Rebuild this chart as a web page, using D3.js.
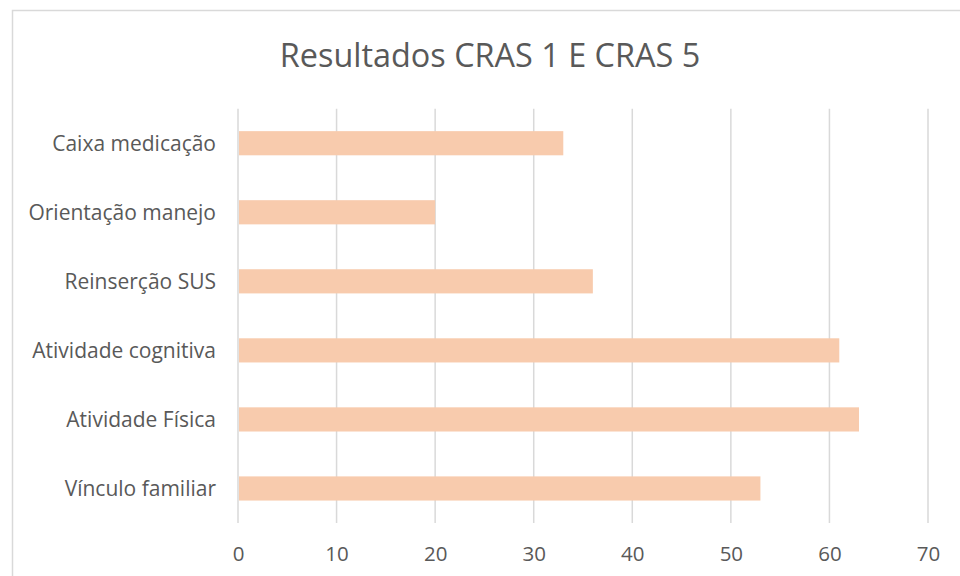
<!DOCTYPE html>
<html>
<head>
<meta charset="utf-8">
<script src="https://cdn.jsdelivr.net/npm/d3@7"></script>
<style>
  body { margin: 0; background: #fff; }
  svg { display: block; font-family: "Open Sans", Lato, sans-serif; }
</style>
</head>
<body>
<svg id="chart" width="960" height="576"></svg>
<script>
const categories = ["Caixa medicação", "Orientação manejo", "Reinserção SUS", "Atividade cognitiva", "Atividade Física", "Vínculo familiar"];
const values = [33, 20, 36, 61, 63, 53];
const ticks = [0, 10, 20, 30, 40, 50, 60, 70];

const svg = d3.select("#chart");
const margin = { top: 108.7, right: 32, bottom: 53, left: 238 };

// chart frame (runs off the right and bottom edges)
svg.append("rect")
    .attr("x", 12.5).attr("y", 10.5)
    .attr("width", 960).attr("height", 600)
    .attr("fill", "#fff")
    .attr("stroke", "#d9d9d9")
    .attr("stroke-width", 1.5);

svg.append("text")
    .attr("x", 490)
    .attr("y", 67)
    .attr("text-anchor", "middle")
    .attr("font-size", 32.4)
    .attr("fill", "#595959")
    .text("Resultados CRAS 1 E CRAS 5");

const x = d3.scaleLinear().domain([0, 70]).range([238, 928]);
const y = d3.scaleBand().domain(categories).range([margin.top, 523]).paddingInner(0.65).paddingOuter(0.325);

// gridlines
svg.append("g")
    .selectAll("line")
    .data(ticks)
    .enter()
    .append("line")
    .attr("x1", d => x(d)).attr("x2", d => x(d))
    .attr("y1", margin.top).attr("y2", 523)
    .attr("stroke", "#d9d9d9")
    .attr("stroke-width", 1.5);

// bars
svg.append("g")
    .selectAll("rect")
    .data(categories)
    .enter()
    .append("rect")
    .attr("x", x(0) + 1)
    .attr("y", d => y(d))
    .attr("width", (d, i) => x(values[i]) - x(0) - 1)
    .attr("height", y.bandwidth())
    .attr("fill", "#f8cbad");

// category labels
svg.append("g")
    .selectAll("text")
    .data(categories)
    .enter()
    .append("text")
    .attr("x", 216)
    .attr("y", d => y(d) + y.bandwidth() / 2)
    .attr("dy", "0.35em")
    .attr("text-anchor", "end")
    .attr("font-size", 21)
    .attr("fill", "#595959")
    .text(d => d);

// x axis labels
const xAxis = d3.axisBottom(x).tickValues(ticks).tickSize(0).tickPadding(0);
const gx = svg.append("g")
    .attr("transform", "translate(0,546)")
    .call(xAxis);
gx.select(".domain").remove();
gx.selectAll("text")
    .attr("font-family", "'Open Sans', Lato, sans-serif")
    .attr("font-size", 20.5)
    .attr("fill", "#595959");
</script>
</body>
</html>
